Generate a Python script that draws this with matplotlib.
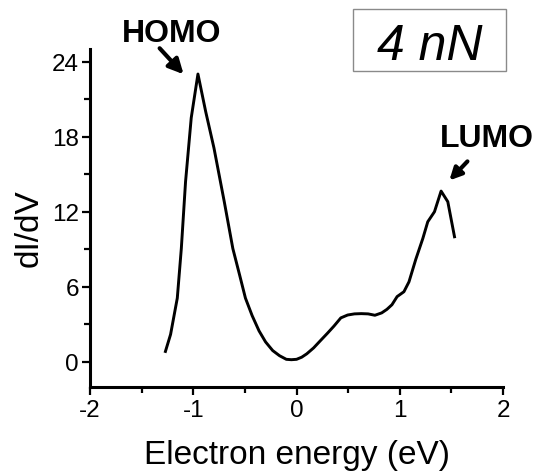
import matplotlib
matplotlib.use("Agg")
import matplotlib.pyplot as plt
from matplotlib.patches import Rectangle
from matplotlib.ticker import MultipleLocator

plt.rcParams['font.family'] = ['Liberation Sans', 'DejaVu Sans']
plt.rcParams['axes.unicode_minus'] = False

# dI/dV spectrum at 4 nN load
energy = [-1.27, -1.22, -1.155, -1.116, -1.075, -1.02, -0.955, -0.88, -0.80,
          -0.70, -0.617, -0.55, -0.495, -0.43, -0.363, -0.30, -0.231, -0.165,
          -0.099, -0.05, 0.0, 0.05, 0.099, 0.165, 0.231, 0.30, 0.363, 0.429,
          0.495, 0.561, 0.627, 0.693, 0.759, 0.825, 0.875, 0.924, 0.974, 1.04,
          1.089, 1.155, 1.223, 1.271, 1.336, 1.40, 1.465, 1.53]
didv = [0.84, 2.2, 5.1, 9.06, 14.4, 19.5, 23.0, 20.0, 17.1,
        12.8, 9.06, 6.9, 5.1, 3.7, 2.48, 1.6, 0.91, 0.5,
        0.21, 0.18, 0.21, 0.38, 0.65, 1.12, 1.70, 2.3, 2.87, 3.52,
        3.75, 3.84, 3.86, 3.84, 3.73, 3.92, 4.2, 4.57, 5.22, 5.61,
        6.4, 8.2, 9.86, 11.2, 12.0, 13.65, 12.8, 10.0]

fig = plt.figure(figsize=(5.36, 4.77), dpi=100)
ax = fig.add_axes([0.168, 0.1866, 0.7705, 0.7086])

ax.plot(energy, didv, color='black', lw=2.1)

ax.set_xlim(-2, 2)
ax.set_ylim(-2, 25)
ax.xaxis.set_major_locator(MultipleLocator(1))
ax.xaxis.set_minor_locator(MultipleLocator(0.5))
ax.yaxis.set_major_locator(MultipleLocator(6))
ax.yaxis.set_minor_locator(MultipleLocator(3))

for side in ('top', 'right'):
    ax.spines[side].set_visible(False)
for side in ('left', 'bottom'):
    ax.spines[side].set_linewidth(2.2)

ax.tick_params(which='major', direction='out', length=6, width=1.6, labelsize=17.5)
ax.tick_params(which='minor', direction='out', length=4, width=1.6)
ax.tick_params(axis='x', which='major', pad=3)
ax.tick_params(axis='y', which='major', pad=2)

ax.set_xlabel('Electron energy (eV)', fontsize=24)
ax.set_ylabel('dI/dV', fontsize=24)
ax.xaxis.set_label_coords(0.5, -0.155)
ax.yaxis.set_label_coords(-0.11, 0.473)

arrow = dict(arrowstyle='-|>', lw=3, color='black', mutation_scale=22,
             shrinkA=0, shrinkB=0)
ax.annotate('', xy=(-1.094, 22.98), xytext=(-1.326, 25.06),
            arrowprops=arrow, annotation_clip=False)
ax.text(-1.21, 25.62, 'HOMO', fontsize=23, fontweight='bold',
        ha='center', va='baseline', clip_on=False)

ax.annotate('', xy=(1.48, 14.5), xytext=(1.655, 16.02),
            arrowprops=dict(arrow, mutation_scale=18), annotation_clip=False)
ax.text(1.84, 17.22, 'LUMO', fontsize=23, fontweight='bold',
        ha='center', va='baseline', clip_on=False)

# load label in a framed box
fig.patches.append(Rectangle((0.6586, 0.849), 0.2854, 0.13, transform=fig.transFigure,
                             fill=False, edgecolor='#8a8a8a', lw=1))
fig.text(0.802, 0.874, '4 nN', fontsize=36, style='italic',
         ha='center', va='baseline')

fig.savefig('out.png', dpi=100)
